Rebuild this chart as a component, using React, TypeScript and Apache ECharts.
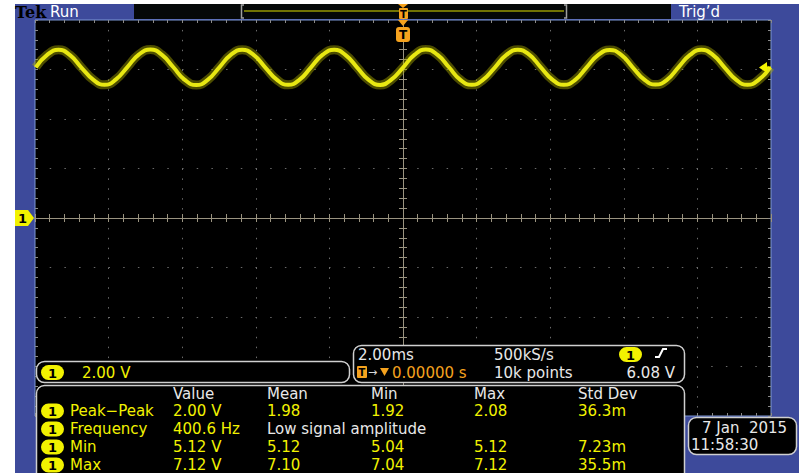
import React, { useEffect, useRef } from "react";
import * as echarts from "echarts";

// ---- data (time in ms, channel 1 in volts) ----
const TIME_MS = [
  -9.98, -9.67, -9.36, -9.05, -8.74, -8.42, -8.11, -7.8,
  -7.49, -7.18, -6.86, -6.55, -6.24, -5.93, -5.62, -5.3,
  -4.99, -4.68, -4.37, -4.06, -3.74, -3.43, -3.12, -2.81,
  -2.5, -2.18, -1.87, -1.56, -1.25, -0.94, -0.62, -0.31,
  0.0, 0.31, 0.62, 0.94, 1.25, 1.56, 1.87, 2.18,
  2.5, 2.81, 3.12, 3.43, 3.74, 4.06, 4.37, 4.68,
  4.99, 5.3, 5.62, 5.93, 6.24, 6.55, 6.86, 7.18,
  7.49, 7.8, 8.11, 8.42, 8.74, 9.05, 9.36, 9.67,
  9.98,
];
const CH1_VOLTS = [
  6.09, 6.59, 6.8, 6.58, 6.08, 5.59, 5.38, 5.6,
  6.1, 6.6, 6.81, 6.59, 6.09, 5.58, 5.37, 5.59,
  6.09, 6.59, 6.8, 6.59, 6.08, 5.59, 5.38, 5.59,
  6.09, 6.6, 6.8, 6.58, 6.09, 5.59, 5.37, 5.6,
  6.08, 6.59, 6.81, 6.59, 6.09, 5.58, 5.38, 5.59,
  6.09, 6.59, 6.8, 6.6, 6.1, 5.59, 5.38, 5.58,
  6.09, 6.58, 6.79, 6.59, 6.09, 5.6, 5.39, 5.59,
  6.1, 6.59, 6.8, 6.59, 6.08, 5.59, 5.38, 5.59,
  6.09,
];
const TRIGGER_LEVEL_V = 6.08;
const CH1_GROUND_V = 0;
const X_MIN = -10, X_MAX = 10, X_DIV = 2; // 2.00 ms/div
const Y_MIN = -8, Y_MAX = 8, Y_DIV = 2; // 2.00 V/div

const MEAS_HEADERS = ["Value", "Mean", "Min", "Max", "Std Dev"];
const MEAS_LABELS = ["Peak\u2212Peak", "Frequency", "Min", "Max"];
const MEAS_CELLS = [
  ["2.00 V", "1.98", "1.92", "2.08", "36.3m"],
  ["400.6 Hz", "Low signal amplitude"],
  ["5.12 V", "5.12", "5.04", "5.12", "7.23m"],
  ["7.12 V", "7.10", "7.04", "7.12", "35.5m"],
];

const FONT = "'DejaVu Sans', 'Noto Sans', sans-serif";
const YEL = "#f2f200";
const WHITE = "#e8e8e8";
const ORANGE = "#f5a21e";
const BOX_STROKE = "#cfcfcf";
const AX_COLOR = "#9a9380";
const DOT_COLOR = "#6a6a6a";
const BORDER_TICK = "#8a8a8a";

type G = Record<string, any>;
const text = (x: number, y: number, s: string, fill: string, opts: G = {}, z = 102): G => ({
  type: "text", z, x, y, silent: true,
  style: { text: s, fill, fontSize: 15, fontFamily: FONT, verticalAlign: "middle", align: "left", ...opts },
});
const rect = (x: number, y: number, w: number, h: number, fill: string, stroke: string | null = null, r = 0, lw = 1.5, z = 99): G => ({
  type: "rect", z, silent: true, shape: { x, y, width: w, height: h, r },
  style: { fill, stroke: stroke ?? "none", lineWidth: lw },
});
const badge = (x: number, y: number): G[] => [
  rect(x, y, 23, 15, YEL, null, 7.5, 0, 100),
  text(x + 11.5, y + 8, "1", "#000", { align: "center", fontWeight: "bold", fontSize: 13 }, 101),
];

function buildGraphics(): G[] {
  const g: G[] = [];
  // top bar
  g.push(text(15, 12, "Tek", "#000", { fontFamily: "'DejaVu Serif', serif", fontWeight: "bold", fontSize: 16 }));
  g.push(text(50, 12, "Run", "#ffffff"));
  g.push(rect(134, 4, 537, 15, "#050808", null, 0, 0, 98));
  g.push({ type: "polyline", z: 100, silent: true, shape: { points: [[244, 5], [241.5, 5], [241.5, 18], [244, 18]] }, style: { stroke: "#a0a0a0", lineWidth: 1.5, fill: "none" } });
  g.push({ type: "polyline", z: 100, silent: true, shape: { points: [[564, 5], [566.5, 5], [566.5, 18], [564, 18]] }, style: { stroke: "#a0a0a0", lineWidth: 1.5, fill: "none" } });
  g.push({ type: "line", z: 100, silent: true, shape: { x1: 244, y1: 11, x2: 564, y2: 11 }, style: { stroke: "#e0e000", lineWidth: 1 } });
  g.push(text(679, 12, "Trig\u2019d", "#ffffff"));
  // trigger position markers
  g.push({ type: "polygon", z: 101, silent: true, shape: { points: [[398, 4], [408, 4], [403, 8]] }, style: { fill: ORANGE } });
  g.push(rect(399, 8, 9, 11, ORANGE, null, 1, 0, 101));
  g.push(text(403.5, 14, "T", "#000", { align: "center", fontWeight: "bold", fontSize: 10 }, 102));
  g.push({ type: "polygon", z: 101, silent: true, shape: { points: [[398, 20], [408, 20], [403, 26]] }, style: { fill: ORANGE } });
  g.push(rect(396, 27, 14, 15, ORANGE, null, 3, 0, 101));
  g.push(text(403, 35, "T", "#000", { align: "center", fontWeight: "bold", fontSize: 12 }, 102));

  // channel 1 scale box
  g.push(rect(36.5, 361.5, 313, 21, "#000", BOX_STROKE, 8));
  g.push(...badge(41, 365));
  g.push(text(82, 372.5, "2.00 V", YEL));

  // horizontal / trigger box
  g.push(rect(353.5, 345.5, 331, 37, "#000", BOX_STROKE, 8));
  g.push(text(358, 355, "2.00ms", WHITE));
  g.push(rect(357, 366, 10, 12, ORANGE, null, 1, 0, 100));
  g.push(text(362, 372.5, "T", "#000", { align: "center", fontWeight: "bold", fontSize: 10 }));
  g.push(text(368, 372.5, "\u2192", "#d8d8d8", { fontSize: 11 }));
  g.push({ type: "polygon", z: 101, silent: true, shape: { points: [[380, 368], [389, 368], [384.5, 376]] }, style: { fill: ORANGE } });
  g.push(text(392, 373, "0.00000 s", ORANGE));
  g.push(text(494, 355, "500kS/s", WHITE));
  g.push(text(494, 373, "10k points", WHITE));
  g.push(...badge(619, 347));
  g.push({ type: "polyline", z: 101, silent: true, shape: { points: [[655, 357], [659, 357], [663, 349], [667, 349]] }, style: { stroke: "#ffffff", lineWidth: 2, fill: "none" } });
  g.push(text(675, 373, "6.08 V", WHITE, { align: "right" }));

  // measurement table
  g.push(rect(36.5, 385.5, 648, 100, "#000", BOX_STROKE, 8));
  const colX = [173, 267, 371, 474, 578];
  const rowY = [411, 429, 447, 465];
  MEAS_HEADERS.forEach((h, i) => g.push(text(colX[i], 393.5, h, WHITE)));
  MEAS_LABELS.forEach((lab, r) => {
    g.push(...badge(41, rowY[r] - 7.5));
    g.push(text(70, rowY[r], lab, YEL));
    MEAS_CELLS[r].forEach((c, i) => {
      const isNote = r === 1 && i === 1;
      g.push(text(colX[i], rowY[r], c, isNote ? WHITE : YEL));
    });
  });

  // date box
  g.push(rect(688.5, 417.5, 108, 37, "#000", BOX_STROKE, 8));
  g.push(text(702, 427.5, "7 Jan  2015", WHITE));
  g.push(text(691, 445, "11:58:30", WHITE));
  return g;
}

function splitColors(n: number): string[] {
  const arr: string[] = [];
  for (let i = 0; i <= n; i++) arr.push(i === 0 || i === n || i === n / 2 ? "rgba(0,0,0,0)" : DOT_COLOR);
  return arr;
}

function buildOption(): G {
  const xBase: G = { type: "value", min: X_MIN, max: X_MAX, interval: X_DIV, gridIndex: 0, axisLabel: { show: false }, splitLine: { show: false } };
  const yBase: G = { type: "value", min: Y_MIN, max: Y_MAX, interval: Y_DIV, gridIndex: 0, axisLabel: { show: false }, splitLine: { show: false } };
  const centerTicks = (inside: boolean) => ({
    axisTick: { show: true, inside, length: 4, lineStyle: { color: AX_COLOR } },
    minorTick: { show: true, splitNumber: 5, length: 4, lineStyle: { color: AX_COLOR } },
  });
  const borderTicks = {
    axisTick: { show: true, inside: true, length: 3, lineStyle: { color: BORDER_TICK } },
    minorTick: { show: true, splitNumber: 5, length: 3, lineStyle: { color: BORDER_TICK } },
  };
  const nx = (X_MAX - X_MIN) / X_DIV;
  const ny = (Y_MAX - Y_MIN) / Y_DIV;
  const data = TIME_MS.map((t, i) => [t, CH1_VOLTS[i]]);
  return {
    animation: false,
    backgroundColor: "transparent",
    grid: { show: true, left: 35, top: 20, width: 736, height: 396, backgroundColor: "#000", borderColor: "#7d97d4", borderWidth: 1, containLabel: false },
    xAxis: [
      { ...xBase, position: "bottom", axisLine: { show: true, onZero: true, onZeroAxisIndex: 0, lineStyle: { color: AX_COLOR, width: 1 } }, ...centerTicks(false),
        splitLine: { show: true, lineStyle: { color: splitColors(nx), width: 1, type: [1.5, 8.4] } } },
      { ...xBase, position: "bottom", axisLine: { show: true, onZero: true, onZeroAxisIndex: 0, lineStyle: { color: AX_COLOR, width: 1 } }, ...centerTicks(true) },
      { ...xBase, position: "top", axisLine: { show: false, onZero: false }, ...borderTicks },
      { ...xBase, position: "bottom", axisLine: { show: false, onZero: false }, ...borderTicks },
    ],
    yAxis: [
      { ...yBase, position: "left", axisLine: { show: true, onZero: true, onZeroAxisIndex: 0, lineStyle: { color: AX_COLOR, width: 1 } }, ...centerTicks(false),
        splitLine: { show: true, lineStyle: { color: splitColors(ny), width: 1, type: [1.5, 13.2] } } },
      { ...yBase, position: "left", axisLine: { show: true, onZero: true, onZeroAxisIndex: 0, lineStyle: { color: AX_COLOR, width: 1 } }, ...centerTicks(true) },
      { ...yBase, position: "left", axisLine: { show: false, onZero: false }, ...borderTicks },
      { ...yBase, position: "right", axisLine: { show: false, onZero: false }, ...borderTicks },
    ],
    series: [
      { type: "line", name: "glow", xAxisIndex: 0, yAxisIndex: 0, data, smooth: true, showSymbol: false, silent: true, z: 3,
        lineStyle: { color: "rgba(170,170,0,0.45)", width: 9 } },
      { type: "line", name: "CH1", xAxisIndex: 0, yAxisIndex: 0, data, smooth: true, showSymbol: false, silent: true, z: 4,
        lineStyle: { color: "#e8e812", width: 4 },
        markPoint: {
          silent: true,
          label: { show: false },
          data: [
            { coord: [X_MAX, TRIGGER_LEVEL_V], symbol: "path://M0,5L8,0L8,4L12,4L12,6L8,6L8,10Z", symbolSize: [12, 11], symbolOffset: [-6, 0], itemStyle: { color: YEL } },
            { coord: [X_MIN, CH1_GROUND_V], symbol: "path://M0,0L13,0L19,8L13,16L0,16Z", symbolSize: [19, 16], symbolOffset: [-10.5, 0], itemStyle: { color: YEL },
              label: { show: true, formatter: "1", position: "inside", offset: [-2, 0], color: "#000", fontWeight: "bold", fontSize: 13, fontFamily: FONT } },
          ],
        } },
    ],
    graphic: buildGraphics(),
  };
}

export default function App() {
  const ref = useRef<HTMLDivElement>(null);
  useEffect(() => {
    if (!ref.current) return;
    const chart = echarts.init(ref.current, null, { renderer: "svg" });
    chart.setOption(buildOption());
    return () => chart.dispose();
  }, []);
  return (
    <div style={{ position: "absolute", left: 0, top: 0, width: 806, height: 473, background: "#fff", overflow: "hidden" }}>
      <div style={{ position: "absolute", left: 15, top: 4, width: 784, height: 469, background: "#3d4a9b" }} />
      <div ref={ref} style={{ position: "absolute", left: 0, top: 0, width: 806, height: 473 }} />
    </div>
  );
}
